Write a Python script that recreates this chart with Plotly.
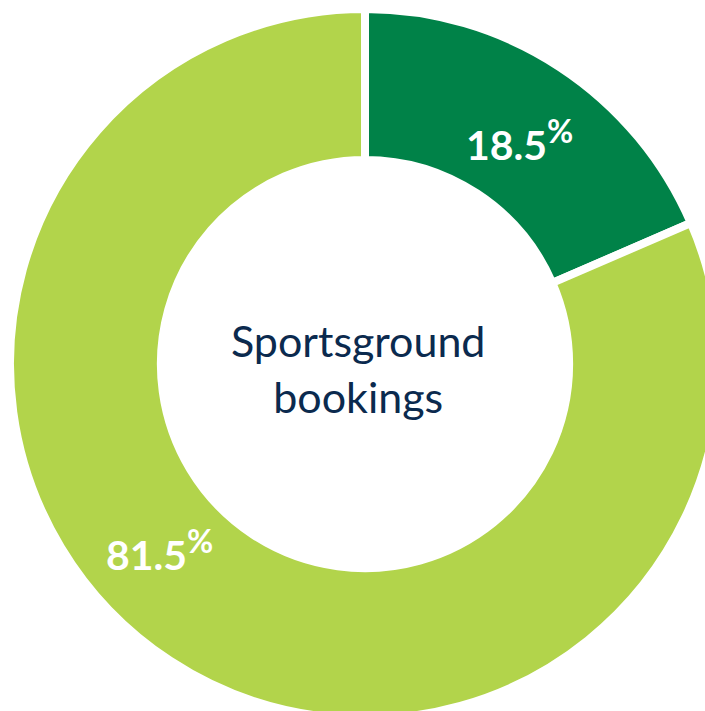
import plotly.graph_objects as go

labels = ["Share A", "Share B"]
values = [18.5, 81.5]
colors = ["#008248", "#B2D44B"]
center_title = ["Sportsground", "bookings"]

W, H = 730, 720

fig = go.Figure(go.Pie(
    labels=labels,
    values=values,
    sort=False,
    direction="clockwise",
    rotation=0,
    hole=0.575,
    marker=dict(colors=colors, line=dict(color="white", width=8)),
    textinfo="none",
    hoverinfo="skip",
    showlegend=False,
    domain=dict(x=[10 / W, 720 / W], y=[1 / H, 711 / H]),
))

def pct_text(v):
    return f"{v}<sup><span style='font-size:32px'>%</span></sup>"

label_pos = [(519, 140), (159, 550)]
for v, (px, py) in zip(values, label_pos):
    fig.add_annotation(
        x=px / W, y=1 - py / H, xref="paper", yref="paper",
        text=pct_text(v), showarrow=False,
        font=dict(family="Lato", size=41, color="white", weight="bold"),
        xanchor="center", yanchor="middle",
    )

fig.add_annotation(
    x=358 / W, y=1 - 369 / H, xref="paper", yref="paper",
    text="<br>".join(center_title), showarrow=False,
    font=dict(family="Lato", size=43, color="#0B2A4E"),
    xanchor="center", yanchor="middle",
)

fig.update_layout(
    width=W, height=H, autosize=False,
    margin=dict(l=0, r=0, t=0, b=0),
    paper_bgcolor="white", plot_bgcolor="white",
)

fig.write_html(
    "out.html",
    config={"displayModeBar": False},
    post_script="document.body.style.margin='0';document.body.style.overflow='hidden';",
)
